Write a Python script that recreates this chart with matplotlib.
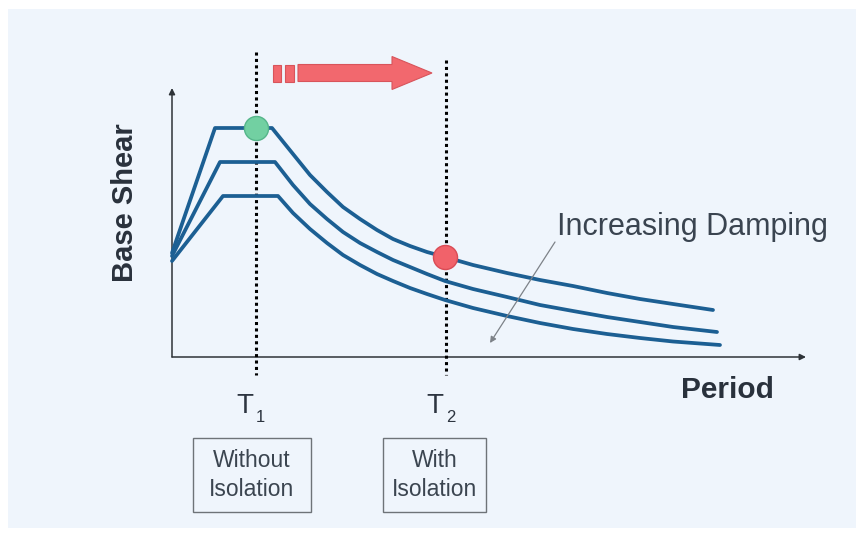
import numpy as np
import matplotlib
matplotlib.use("Agg")
import matplotlib.pyplot as plt
from matplotlib.patches import Rectangle, FancyArrow

plt.rcParams['font.family'] = ['Liberation Sans', 'DejaVu Sans']

# response spectra, base shear vs period, for three damping levels
period_top = [0, 0.43, 1.00, 1.21, 1.38, 1.55, 1.71, 1.88, 2.05, 2.21, 2.38, 2.55, 2.73,
              3.01, 3.35, 3.68, 4.01, 4.35, 4.68, 5.01, 5.41]
shear_top = [1.04, 2.29, 2.29, 2.03, 1.82, 1.65, 1.50, 1.38, 1.27, 1.18, 1.11, 1.05, 1.00,
             0.92, 0.84, 0.77, 0.71, 0.64, 0.58, 0.53, 0.47]

period_mid = [0, 0.48, 1.03, 1.21, 1.38, 1.55, 1.71, 1.88, 2.05, 2.21, 2.38, 2.55, 2.73,
              3.01, 3.35, 3.68, 4.01, 4.35, 4.68, 5.01, 5.45]
shear_mid = [1.01, 1.95, 1.95, 1.72, 1.53, 1.38, 1.25, 1.14, 1.05, 0.97, 0.90, 0.83, 0.76,
             0.68, 0.60, 0.52, 0.46, 0.40, 0.35, 0.30, 0.25]

period_low = [0, 0.51, 1.06, 1.21, 1.38, 1.55, 1.71, 1.88, 2.05, 2.21, 2.38, 2.55, 2.73,
              3.01, 3.35, 3.68, 4.01, 4.35, 4.68, 5.01, 5.48]
shear_low = [0.96, 1.61, 1.61, 1.44, 1.28, 1.14, 1.02, 0.92, 0.83, 0.76, 0.69, 0.63, 0.57,
             0.49, 0.41, 0.34, 0.28, 0.23, 0.19, 0.155, 0.12]

# fixed-base and isolated periods, with the response each one gets
T1, T2 = 0.84, 2.74
shear_T1, shear_T2 = 2.29, 1.00
period_labels = ["1", "2"]
box_labels = ["Without\nIsolation", "With\nIsolation"]

fig = plt.figure(figsize=(8.63, 5.34), dpi=100)
fig.patch.set_facecolor("white")
ax = fig.add_axes([0, 0, 1, 1])
ax.set_xlim(-1.72, 6.91)
ax.set_ylim(-1.77, 3.57)
ax.axis("off")

ax.add_patch(Rectangle((-1.64, -1.71), 8.48, 5.19, facecolor="#eff5fc",
                       edgecolor="none", zorder=0))

line_col = "#1c5f93"
for px, sy in [(period_top, shear_top), (period_mid, shear_mid), (period_low, shear_low)]:
    ax.plot(px, sy, color=line_col, lw=2.7, solid_joinstyle="round",
            solid_capstyle="round", zorder=3)

# axes with arrow heads
axis_col = "#2e3338"
ax.annotate("", xy=(0, 2.69), xytext=(0, 0),
            arrowprops=dict(arrowstyle="-|>", color=axis_col, lw=1.1,
                            mutation_scale=9, shrinkA=0, shrinkB=0), zorder=2)
ax.annotate("", xy=(6.34, 0), xytext=(0, 0),
            arrowprops=dict(arrowstyle="-|>", color=axis_col, lw=1.1,
                            mutation_scale=9, shrinkA=0, shrinkB=0), zorder=2)

# dotted period markers
ax.plot([T1, T1], [3.05, -0.18], color="black", lw=2.2,
        linestyle=(0, (1, 1.1)), zorder=2)
ax.plot([T2, T2], [2.97, -0.18], color="black", lw=2.2,
        linestyle=(0, (1, 1.1)), zorder=2)

ax.scatter([T1], [shear_T1], s=300, color="#72d0a2", edgecolor="#55b58a",
           lw=1, zorder=5)
ax.scatter([T2 - 0.01], [shear_T2], s=300, color="#f1626a", edgecolor="#d94b55",
           lw=1, zorder=5)

# red shift arrow from T1 towards T2
arrow_y = 2.84
arrow_fc, arrow_ec = "#f2686e", "#d8545b"
ax.add_patch(FancyArrow(1.26, arrow_y, 1.34, 0, width=0.17, head_width=0.33,
                        head_length=0.40, length_includes_head=True,
                        fc=arrow_fc, ec=arrow_ec, lw=0.8, zorder=4))
for x0, w in [(1.01, 0.08), (1.13, 0.09)]:
    ax.add_patch(Rectangle((x0, arrow_y - 0.085), w, 0.17, fc=arrow_fc,
                           ec=arrow_ec, lw=0.8, zorder=4))

# increasing damping pointer
ax.annotate("", xy=(3.18, 0.14), xytext=(3.83, 1.15),
            arrowprops=dict(arrowstyle="-|>", color="#7d8288", lw=0.9,
                            mutation_scale=9, shrinkA=0, shrinkB=0), zorder=4)
ax.text(3.85, 1.30, "Increasing Damping", fontsize=22, color="#3a4450",
        ha="left", va="center")

label_col = "#29313c"
ax.text(-0.47, 1.54, "Base Shear", fontsize=21, fontweight="bold",
        color=label_col, rotation=90, ha="center", va="center")
ax.text(5.55, -0.33, "Period", fontsize=21.5, fontweight="bold",
        color=label_col, ha="center", va="center")

for t, sub in zip([T1, T2], period_labels):
    ax.text(t - 0.11, -0.56, "T", fontsize=20, color="#2d3540",
            ha="center", va="baseline")
    ax.text(t, -0.65, sub, fontsize=12, color="#2d3540",
            ha="left", va="baseline")

box_x = [(0.207, 1.387), (2.107, 3.14)]
for (x0, x1), txt in zip(box_x, box_labels):
    ax.add_patch(Rectangle((x0, -1.547), x1 - x0, 0.74, fc="none",
                           ec="#6e7378", lw=1.0, zorder=3))
    ax.text((x0 + x1) / 2, -1.18, txt, fontsize=16.5, color="#3b4550",
            ha="center", va="center", linespacing=1.35)

fig.savefig("out.png", dpi=100, facecolor=fig.get_facecolor())
